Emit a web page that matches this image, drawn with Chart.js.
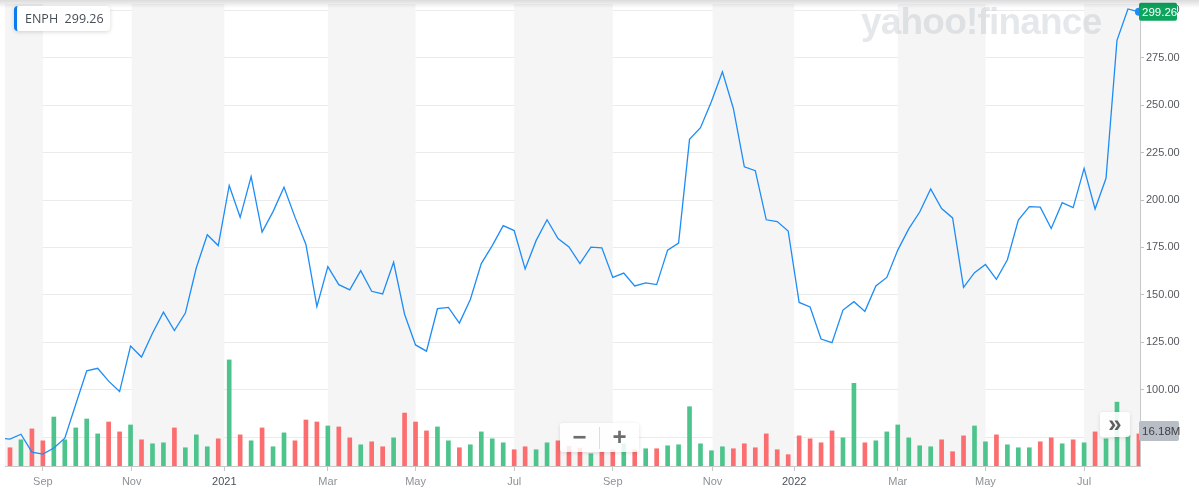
<!DOCTYPE html>
<html>
<head>
<meta charset="utf-8">
<title>ENPH</title>
<script src="https://cdn.jsdelivr.net/npm/chart.js@4.4.1/dist/chart.umd.min.js"></script>
<style>
  body { margin: 0; background: #fff; }
  #wrap { position: relative; width: 1199px; height: 503px; overflow: hidden; font-family: "Open Sans", Arial, sans-serif; }
  #grafico { position: absolute; left: 0; top: 0; }
  .sombra { position: absolute; left: 0; top: 0; width: 1199px; height: 8px; background: linear-gradient(rgba(0,0,0,0.14), rgba(0,0,0,0)); pointer-events: none; }
  .ticker { position: absolute; left: 14px; top: 6px; height: 25px; line-height: 25px; padding: 0 6px 0 8px; background: #fff; border-left: 3px solid #0a7cf0; border-radius: 4px; box-shadow: 0 1px 4px rgba(0,0,0,0.16); font-size: 12.5px; color: #464e56; white-space: nowrap; }
  .marca { position: absolute; left: 861px; top: 1px; font-family: Arial, "Liberation Sans", sans-serif; font-weight: bold; font-size: 37px; letter-spacing: -0.8px; color: rgba(170,178,190,0.3); pointer-events: none; }
  .zoom { position: absolute; left: 560px; top: 423px; width: 79px; height: 29px; background: rgba(255,255,255,0.86); border-radius: 3px; box-shadow: 0 1px 4px rgba(0,0,0,0.12); font-family: Arial, sans-serif; font-weight: bold; color: #6d6d6d; font-size: 24px; }
  .zoom span { position: absolute; top: 0; width: 39px; height: 29px; line-height: 28px; text-align: center; }
  .zoom .sep { position: absolute; left: 39px; top: 4px; width: 1px; height: 22px; background: #ddd; }
  .mas { position: absolute; left: 1100px; top: 412px; width: 30px; height: 25px; line-height: 23px; text-align: center; background: rgba(255,255,255,0.9); border-radius: 3px; box-shadow: 0 1px 4px rgba(0,0,0,0.12); font-family: Arial, sans-serif; font-weight: bold; font-size: 24px; color: #5f5f5f; }
</style>
</head>
<body>
<div id="wrap">
  <canvas id="grafico" width="1199" height="503"></canvas>
  <div class="sombra"></div>
  <div class="marca">yahoo!finance</div>
  <div class="ticker">ENPH&nbsp; 299.26</div>
  <div class="zoom"><span style="left:0">−</span><div class="sep"></div><span style="left:40px">+</span></div>
  <div class="mas">»</div>
</div>
<script>
const grafico = document.getElementById("grafico");

// cierre semanal (semana 0 .. 103), mas el cierre anterior a la ventana
const cierrePrevio = 74.5;
const cierres = [
  73.9, 76.5, 67.1, 66.0, 69.2, 74.4, 92.3, 109.9, 111.3, 104.5,
  99.0, 123.0, 117.2, 129.8, 140.9, 131.2, 140.4, 164.3, 181.7, 176.0,
  207.7, 190.9, 212.4, 183.1, 193.9, 206.8, 191.0, 176.6, 143.9, 164.9,
  155.4, 152.6, 162.8, 151.9, 150.5, 167.2, 139.8, 123.6, 120.3, 142.7,
  143.4, 135.1, 147.6, 166.5, 176.0, 186.5, 183.9, 163.7, 178.6, 189.6,
  179.7, 175.3, 166.5, 175.2, 174.8, 159.2, 161.5, 154.7, 156.3, 155.4,
  173.6, 177.3, 232.0, 238.2, 252.0, 267.7, 248.3, 217.5, 215.5, 189.6,
  188.7, 183.7, 146.0, 143.6, 126.7, 124.8, 142.0, 146.4, 141.3, 154.7,
  159.2, 173.6, 184.8, 193.7, 205.9, 195.5, 190.6, 154.0, 161.7, 166.0,
  158.2, 168.5, 189.4, 196.5, 196.3, 185.0, 198.6, 196.0, 216.7, 195.3,
  211.5, 284.2, 300.8, 299.26,
];

// volumen semanal en millones
const volumenes = [
  9.2, 13.2, 18.7, 12.7, 24.7, 13.2, 19.2, 23.7, 16.2, 22.2,
  17.2, 20.7, 13.2, 11.2, 11.7, 19.2, 9.2, 15.7, 9.7, 13.7,
  53.5, 15.7, 12.7, 19.2, 9.7, 16.7, 12.7, 23.2, 22.2, 20.2,
  19.7, 14.2, 10.7, 12.2, 9.7, 14.2, 26.7, 22.2, 17.7, 19.7,
  12.7, 9.2, 10.7, 17.2, 13.7, 11.7, 8.2, 9.7, 8.2, 11.7,
  12.7, 10.0, 9.0, 6.2, 7.2, 8.2, 11.2, 8.2, 8.7, 8.7,
  10.2, 10.7, 29.9, 11.2, 7.7, 9.7, 8.7, 11.2, 9.2, 16.2,
  8.2, 5.7, 15.2, 13.7, 11.7, 17.7, 14.2, 41.7, 11.7, 12.7,
  17.2, 20.7, 14.2, 10.2, 9.7, 13.2, 7.2, 15.2, 20.2, 12.2,
  15.7, 10.7, 9.2, 9.2, 12.2, 14.2, 11.2, 13.2, 11.7, 17.2,
  13.7, 32.2, 15.5, 16.18,
];

// posicion (en semanas) de cada etiqueta del eje x
const posicionesMes = [3, 11.1, 19.55, 29, 37, 46, 55, 64.1, 71.55, 81, 89, 98];
const etiquetasMes = ["Sep", "Nov", "2021", "Mar", "May", "Jul", "Sep", "Nov", "2022", "Mar", "May", "Jul"];

const azul = "#1e8cf5";
const verde = "#4dc48c";
const rojo = "#fb6d6f";

const puntosPrecio = [{ x: -1, y: cierrePrevio }].concat(
  cierres.map((c, i) => ({ x: i, y: c }))
);
const puntosVolumen = volumenes.map((v, i) => ({ x: i, y: v }));
const coloresVolumen = cierres.map((c, i) =>
  c >= (i === 0 ? cierrePrevio : cierres[i - 1]) ? verde : rojo
);

// franjas grises alternas entre meses
const bandas = {
  id: "bandas",
  beforeDatasetsDraw(chart) {
    const { ctx, chartArea, scales } = chart;
    const xs = posicionesMes.map((p) => scales.x.getPixelForValue(p));
    const bordes = [chartArea.left].concat(xs, [chartArea.right]);
    ctx.save();
    ctx.fillStyle = "#f5f5f5";
    for (let i = 0; i + 1 < bordes.length; i += 2) {
      ctx.fillRect(bordes[i], chartArea.top, bordes[i + 1] - bordes[i], chartArea.bottom - chartArea.top);
    }
    ctx.restore();
  },
};

// etiquetas del ultimo precio y del ultimo volumen sobre el eje derecho
const etiquetas = {
  id: "etiquetas",
  afterDraw(chart) {
    const { ctx, chartArea, scales } = chart;
    const ultimo = cierres[cierres.length - 1];
    const ultimoVol = volumenes[volumenes.length - 1];
    const x0 = chartArea.right - 1;
    ctx.save();
    ctx.font = "11.5px Arial, 'Liberation Sans', sans-serif";
    ctx.textBaseline = "middle";
    ctx.textAlign = "left";

    let y = Math.max(scales.y.getPixelForValue(ultimo), 9);
    ctx.fillStyle = "#0da55e";
    ctx.beginPath();
    ctx.roundRect(x0, y - 9, 38, 18, 2);
    ctx.fill();
    ctx.fillStyle = "#fff";
    ctx.fillText(ultimo.toFixed(2), x0 + 3, y + 0.5);

    y = scales.yv.getPixelForValue(ultimoVol) - 3;
    ctx.fillStyle = "#b9bdc5";
    ctx.beginPath();
    ctx.roundRect(x0, y - 10, 40, 20, 2);
    ctx.fill();
    ctx.fillStyle = "#3f4348";
    ctx.fillText(ultimoVol.toFixed(2) + "M", x0 + 3, y + 0.5);
    ctx.restore();
  },
};

new Chart(grafico, {
  type: "bar",
  data: {
    datasets: [
      {
        type: "line",
        label: "ENPH",
        data: puntosPrecio,
        borderColor: azul,
        borderWidth: 1.3,
        tension: 0,
        pointRadius: (c) => (c.dataIndex === puntosPrecio.length - 1 ? 4 : 0),
        pointBackgroundColor: azul,
        pointBorderWidth: 0,
        yAxisID: "y",
        order: 0,
        clip: 0,
      },
      {
        type: "bar",
        label: "Volumen",
        data: puntosVolumen,
        backgroundColor: coloresVolumen,
        barThickness: 4,
        yAxisID: "yv",
        order: 1,
      },
    ],
  },
  options: {
    responsive: false,
    animation: false,
    layout: { padding: { left: 5, top: 0, right: 0, bottom: 0 } },
    plugins: {
      legend: { display: false },
      tooltip: { enabled: false },
    },
    scales: {
      x: {
        type: "linear",
        offset: false,
        min: -0.456,
        max: 103.1,
        afterBuildTicks: (s) => {
          s.ticks = posicionesMes.map((p) => ({ value: p }));
        },
        afterFit: (s) => {
          s.height = 37;
          s.paddingLeft = 0;
          s.paddingRight = 0;
        },
        ticks: {
          autoSkip: false,
          maxRotation: 0,
          padding: 4,
          font: { size: 11, family: "Arial, 'Liberation Sans', sans-serif" },
          color: (c) => (/^20/.test(c.tick.label) ? "#4a5058" : "#8d9196"),
          callback: (v, i) => etiquetasMes[i],
        },
        grid: { offset: false, drawOnChartArea: false, tickLength: 5, color: "#c8c8c8" },
        border: { color: "#c8c8c8" },
      },
      y: {
        position: "right",
        min: 59.75,
        max: 303.4,
        afterFit: (s) => {
          s.width = 59;
          s.paddingTop = 0;
          s.paddingBottom = 0;
        },
        ticks: {
          stepSize: 25,
          includeBounds: false,
          padding: 2,
          font: { size: 11, family: "Arial, 'Liberation Sans', sans-serif" },
          color: "#55595e",
          callback: (v) => v.toFixed(2),
        },
        grid: { color: "#ebebeb", tickColor: "#c0c0c0", tickLength: 4 },
        border: { color: "#c8c8c8" },
      },
      yv: {
        display: false,
        min: 0,
        max: 233,
      },
    },
  },
  plugins: [bandas, etiquetas],
});
</script>
</body>
</html>
